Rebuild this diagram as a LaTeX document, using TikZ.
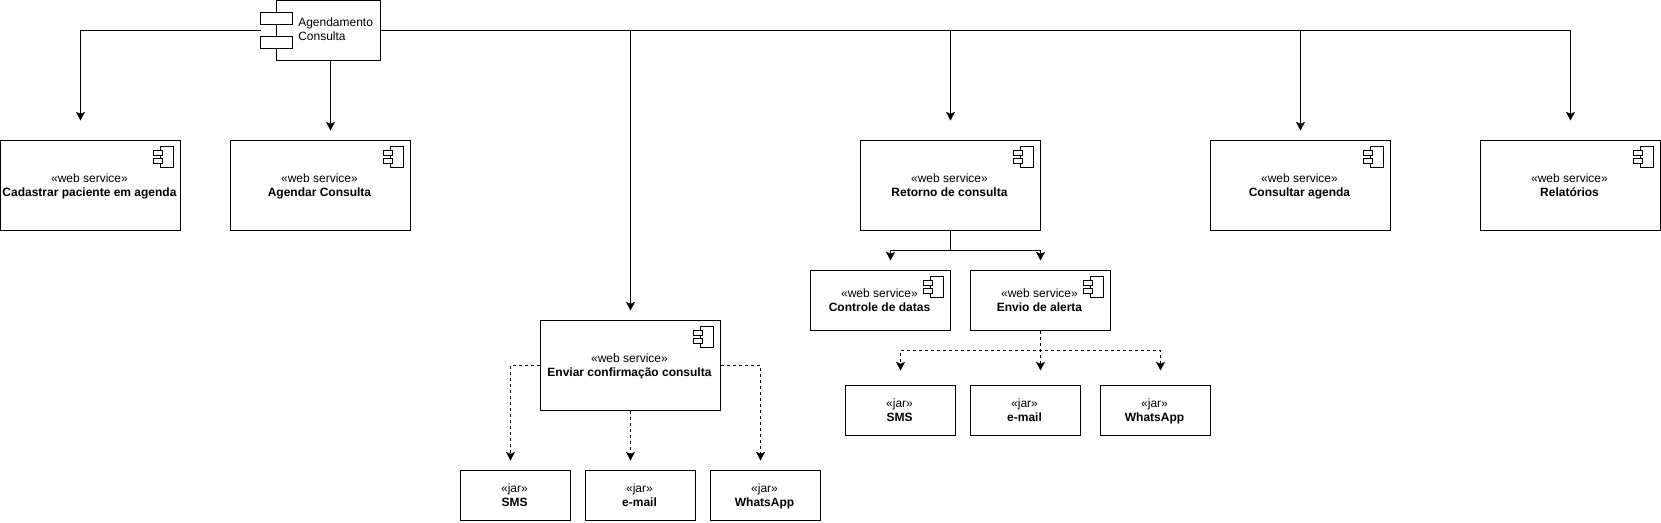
\documentclass[tikz,border=0pt]{standalone}
\usepackage{fontspec}
\setmainfont{Liberation Sans}
\usetikzlibrary{
    arrows.meta
}

\tikzset{
    txt/.style={font=\fontsize{9}{10.5}\selectfont, align=center, inner sep=0pt},
    webbox/.style={draw, txt, line width=0.75pt, minimum width=135pt, minimum height=67.5pt},
    webboxsmall/.style={draw, txt, line width=0.75pt, minimum width=105pt, minimum height=45pt},
    jarbox/.style={draw, txt, line width=0.75pt, minimum width=82.5pt, minimum height=37.5pt},
    flow/.style={-{Stealth[length=6.5pt,width=6.75pt,inset=1.5pt]}, line width=0.75pt},
    flowdash/.style={flow, dash pattern=on 2.25pt off 2.25pt}
}

\newcommand{\compicon}[1]{
    \begin{scope}[shift={(#1.north east)}]
        \draw[line width=0.75pt] (-21,6.5) rectangle (-7.5,27.5);
        \draw[line width=0.75pt, fill=white] (-28,10.5) rectangle (-19,15);
        \draw[line width=0.75pt, fill=white] (-28,18.5) rectangle (-19,23);
    \end{scope}
}
\newcommand{\stereo}[2]{\rule{0pt}{8.85pt}«#1»\hspace*{1.5pt}\\\strut\textbf{#2}\hspace*{1.5pt}}

\begin{document}
\begin{tikzpicture}[x=0.75pt,y=-0.75pt,shift={(0.5,0.5)}]

\useasboundingbox (-0.5,-0.5) rectangle (1660.5,521.5);

% Main component
\node[draw, line width=0.75pt, minimum width=78pt, minimum height=45pt, inner sep=0pt] (agenda) at (328,30) {};
\draw[line width=0.75pt, fill=white] (260,12) rectangle (292,24);
\draw[line width=0.75pt, fill=white] (260,36) rectangle (292,48);
\node[txt, anchor=west, align=left] (agendaText) at (297.5,29.7) {\strut Agendamento\\\strut Consulta};

% Web services
\node[webbox] (cadastrar) at (90,185) {\stereo{web service}{Cadastrar paciente em agenda}};
\node[webbox] (agendar) at (320,185) {\stereo{web service}{Agendar Consulta}};
\node[webbox] (enviar) at (630,365) {\stereo{web service}{Enviar confirmação consulta}};
\node[webbox] (retorno) at (950,185) {\stereo{web service}{Retorno de consulta}};
\node[webbox] (consultar) at (1300,185) {\stereo{web service}{Consultar agenda}};
\node[webbox] (relatorios) at (1570,185) {\stereo{web service}{Relatórios}};

\node[webboxsmall] (controle) at (880,300) {\stereo{web service}{Controle de datas}};
\node[webboxsmall] (envio) at (1040,300) {\stereo{web service}{Envio de alerta}};

% Jars under Enviar
\node[jarbox] (smsA) at (515,495) {\stereo{jar}{SMS}};
\node[jarbox] (mailA) at (640,495) {\stereo{jar}{e-mail}};
\node[jarbox] (whatsA) at (765,495) {\stereo{jar}{WhatsApp}};

% Jars under Envio
\node[jarbox] (smsB) at (900,410) {\stereo{jar}{SMS}};
\node[jarbox] (mailB) at (1025,410) {\stereo{jar}{e-mail}};
\node[jarbox] (whatsB) at (1155,410) {\stereo{jar}{WhatsApp}};

% Component icons
\foreach \n in {cadastrar,agendar,enviar,retorno,consultar,relatorios,controle,envio}
    \compicon{\n};

% Free ends of the arrows
\coordinate (agendaLeft) at (260,30.3);
\coordinate (inCadastrar) at (80,120);
\coordinate (inAgendar) at (330,130);
\coordinate (inEnviar) at (630,310);
\coordinate (inRetorno) at (950,120);
\coordinate (inConsultar) at (1300,130);
\coordinate (inRelatorios) at (1570,120);
\coordinate (inControle) at (890,260);
\coordinate (inEnvio) at (1040,260);
\coordinate (retornoFork) at (950,250.3);
\coordinate (envioFork) at (1040,350);
\coordinate (inSmsA) at (510,460);
\coordinate (inMailA) at (630,460);
\coordinate (inWhatsA) at (760,460);
\coordinate (inSmsB) at (900,370);
\coordinate (inMailB) at (1040,370);
\coordinate (inWhatsB) at (1160,370);

% Arrows from main component
\draw[flow] (agendaLeft) -| (inCadastrar);
\draw[flow] (agenda.south -| inAgendar) -- (inAgendar);
\draw[flow] ([yshift=-0.25pt]agenda.east) -| (inEnviar);
\draw[flow] ([yshift=-0.25pt]agenda.east) -| (inRetorno);
\draw[flow] ([yshift=-0.25pt]agenda.east) -| (inConsultar);
\draw[flow] ([yshift=-0.25pt]agenda.east) -| (inRelatorios);

% Retorno fork
\draw[flow] (retorno.south) -- (retornoFork) -| (inControle);
\draw[flow] (retorno.south) -- (retornoFork) -| (inEnvio);

% Dashed arrows from Enviar
\draw[flowdash] (enviar.west) -| (inSmsA);
\draw[flowdash] (enviar.south) -- (inMailA);
\draw[flowdash] (enviar.east) -| (inWhatsA);

% Dashed arrows from Envio
\draw[flowdash] (envio.south) -- (envioFork) -| (inSmsB);
\draw[flowdash] (envio.south) -- (inMailB);
\draw[flowdash] (envio.south) -- (envioFork) -| (inWhatsB);

\end{tikzpicture}
\end{document}
